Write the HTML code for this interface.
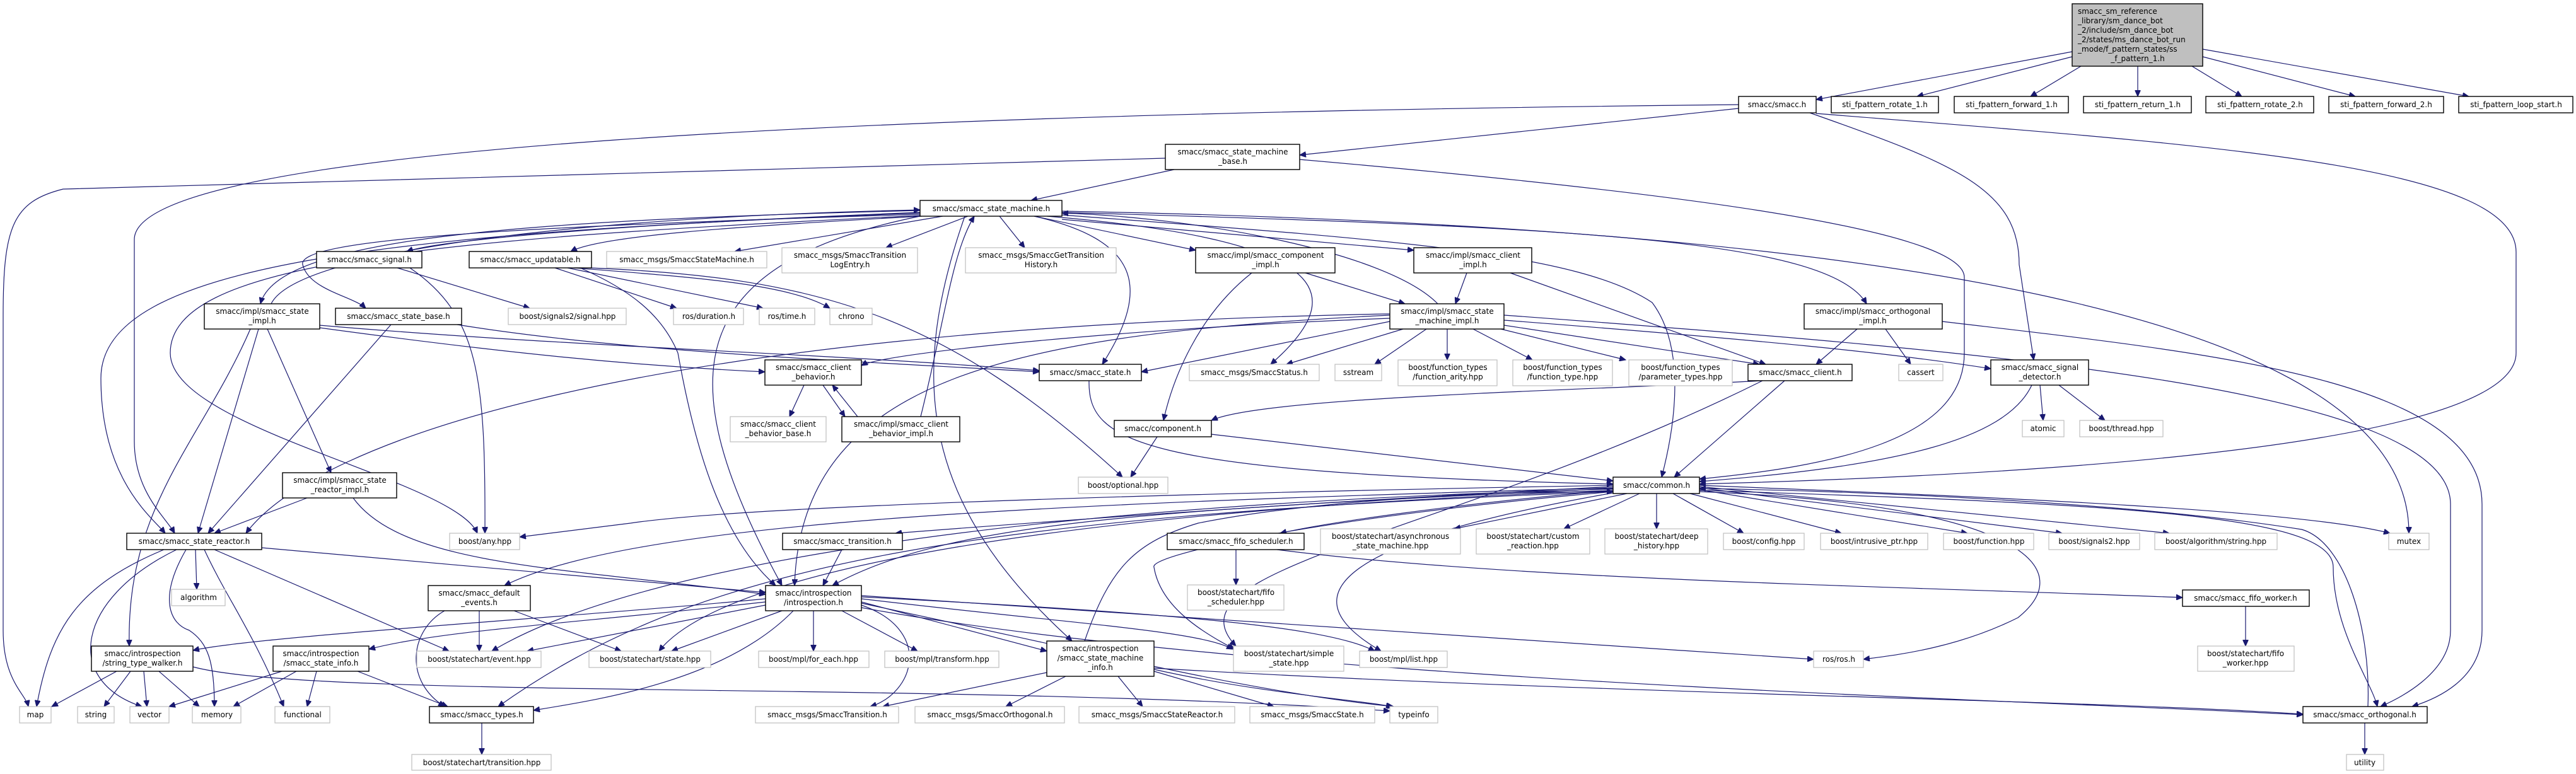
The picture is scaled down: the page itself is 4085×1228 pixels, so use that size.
<!DOCTYPE html>
<html><head><meta charset="utf-8">
<style>
html,body{margin:0;padding:0;background:#fff;}
svg{display:block;}
.n{fill:#fff;stroke:#000;stroke-width:1.4;}
.g{fill:#fff;stroke:#bfbfbf;stroke-width:1.2;}
text{font-family:"DejaVu Sans","Liberation Sans",sans-serif;font-size:12px;fill:#000;text-anchor:middle;}
.e path{fill:none;stroke:#191970;stroke-width:1.2;marker-end:url(#a);}
</style></head><body>
<svg width="4085" height="1228" viewBox="0 0 4085 1228" xmlns="http://www.w3.org/2000/svg">
<defs><marker id="a" markerUnits="userSpaceOnUse" markerWidth="11" markerHeight="9" refX="10" refY="4.5" orient="auto"><path d="M0,0 L10,4.5 L0,9 z" fill="#191970" stroke="#191970"/></marker></defs>
<g class="e">
<path d="M3286,82 L2880,158"/>
<path d="M3286,90 L3040,153"/>
<path d="M3300,105 L3220,153"/>
<path d="M3390,105 L3390,153"/>
<path d="M3476,105 L3555,153"/>
<path d="M3493,90 L3735,153"/>
<path d="M3493,78 L3915,153"/>
<path d="M2757,172 L2061,246"/>
<path d="M2757,166 C1400,180 213,230 213,380 L213,700 C213,780 262,820 277,846"/>
<path d="M1848,251 C900,275 300,290 100,300 C20,320 5,360 5,500 L5,1000 C5,1080 40,1100 45,1121"/>
<path d="M1862,269 L1635,318"/>
<path d="M2061,253 C2600,300 3115,360 3115,440 L3115,560 C3115,700 2900,740 2695,760"/>
<path d="M2880,180 C3500,230 3990,260 3990,400 L3990,560 C3990,720 3100,757 2695,768"/>
<path d="M2870,179 C3100,260 3202,300 3202,420 L3225,571"/>
<path d="M1459,337 C1000,355 700,380 645,399"/>
<path d="M1462,343 C1150,360 950,375 905,399"/>
<path d="M1495,343 L1165,399"/>
<path d="M1535,343 L1405,393"/>
<path d="M1585,343 L1625,393"/>
<path d="M1640,343 L1896,397"/>
<path d="M1684,348 L2242,397"/>
<path d="M1459,334 C800,350 440,380 413,482"/>
<path d="M1459,340 C800,360 470,380 480,420 C490,460 560,470 580,489"/>
<path d="M1640,343 C1800,380 1830,450 1748,578"/>
<path d="M1660,343 C2100,380 2150,460 2015,578"/>
<path d="M1684,337 C2500,360 2900,380 2960,482"/>
<path d="M1684,335 C3000,360 3820,500 3820,846"/>
<path d="M1459,342 C650,380 270,420 270,560 C270,680 720,760 757,846"/>
<path d="M1684,341 C2200,380 2500,400 2620,480 C2680,560 2650,700 2635,757"/>
<path d="M1459,338 C600,370 160,420 160,600 C160,760 240,820 262,846"/>
<path d="M1459,343 C1080,420 1060,600 1240,929"/>
<path d="M1530,343 C1440,600 1460,800 1700,1017"/>
<path d="M430,482 C470,400 900,345 1459,333"/>
<path d="M2280,482 C2200,400 1900,345 1684,338"/>
<path d="M1460,661 C1500,500 1510,400 1545,343"/>
<path d="M630,425 L840,489"/>
<path d="M650,425 C760,500 770,600 769,846"/>
<path d="M880,425 L1073,489"/>
<path d="M900,425 L1210,489"/>
<path d="M910,425 C1100,440 1250,450 1316,489"/>
<path d="M920,425 C1000,460 1050,500 1075,560 C1100,700 1140,850 1230,929"/>
<path d="M935,425 C1300,440 1500,500 1780,757"/>
<path d="M410,522 L314,846"/>
<path d="M397,522 C320,700 200,800 205,1025"/>
<path d="M424,522 L525,750"/>
<path d="M507,520 C800,560 1000,580 1213,590"/>
<path d="M507,516 C900,550 1300,560 1648,588"/>
<path d="M620,515 L330,846"/>
<path d="M725,515 C1000,560 1400,575 1648,590"/>
<path d="M1985,433 C1900,500 1860,600 1845,667"/>
<path d="M2070,433 L2228,482"/>
<path d="M2326,433 L2308,482"/>
<path d="M2395,433 L2800,578"/>
<path d="M2204,510 L1810,590"/>
<path d="M2225,522 L2040,578"/>
<path d="M2262,522 L2180,578"/>
<path d="M2295,522 L2295,571"/>
<path d="M2336,522 L2430,571"/>
<path d="M2380,522 L2578,571"/>
<path d="M2385,516 L2790,578"/>
<path d="M2385,508 C2800,540 3000,560 3157,585"/>
<path d="M3080,510 C3500,560 3936,600 3936,800 L3936,1000 C3936,1080 3860,1110 3825,1121"/>
<path d="M2385,500 C3200,560 3886,620 3886,800 L3886,1000 C3886,1070 3800,1110 3775,1121"/>
<path d="M2204,505 C1800,520 1400,560 1366,580"/>
<path d="M2204,498 C1000,520 500,700 390,846"/>
<path d="M2204,500 C1600,530 1270,600 1260,929"/>
<path d="M2945,522 L2880,578"/>
<path d="M2990,522 L3030,578"/>
<path d="M1275,611 L1252,661"/>
<path d="M1305,611 L1340,661"/>
<path d="M1360,661 L1320,611"/>
<path d="M2795,604 C2500,620 2000,630 1921,667"/>
<path d="M2830,604 L2655,757"/>
<path d="M2795,604 C2300,850 1840,900 1960,1025"/>
<path d="M3235,611 L3240,667"/>
<path d="M3265,611 L3338,667"/>
<path d="M3222,611 C3180,700 3000,740 2695,764"/>
<path d="M1835,693 L1793,757"/>
<path d="M1921,689 L2558,763"/>
<path d="M1727,604 C1725,700 1800,750 2558,768"/>
<path d="M487,790 L340,846"/>
<path d="M560,790 C640,900 900,900 1214,943"/>
<path d="M310,872 L312,935"/>
<path d="M260,872 C120,930 80,1000 58,1121"/>
<path d="M280,872 C120,950 100,1080 225,1121"/>
<path d="M295,872 C250,950 270,990 300,1000 C330,1020 340,1050 340,1121"/>
<path d="M324,872 C360,950 400,1000 450,1121"/>
<path d="M340,872 L712,1033"/>
<path d="M415,869 L1214,940"/>
<path d="M2558,770 C2000,780 1200,800 1000,830 L824,852"/>
<path d="M2558,772 C2000,800 1500,840 1420,846"/>
<path d="M2558,778 C2300,800 2100,830 2030,846"/>
<path d="M2580,783 L2306,839"/>
<path d="M2600,783 L2480,839"/>
<path d="M2627,783 L2627,839"/>
<path d="M2653,783 L2765,846"/>
<path d="M2680,783 L2920,846"/>
<path d="M2695,777 L3120,846"/>
<path d="M2695,774 L3270,846"/>
<path d="M2695,772 L3440,846"/>
<path d="M2695,770 C3200,790 3650,810 3790,846"/>
<path d="M2558,775 C1800,810 1500,830 1320,929"/>
<path d="M2558,774 C1600,800 1000,830 800,929"/>
<path d="M2558,776 C1600,800 1000,900 780,1033"/>
<path d="M2558,778 C1700,810 1150,900 1045,1033"/>
<path d="M2558,780 C1500,820 1100,900 790,1121"/>
<path d="M2558,780 C2100,820 1820,880 1830,900 C1840,960 1900,1000 1958,1030"/>
<path d="M2558,782 C2000,880 2100,980 2190,1033"/>
<path d="M2695,780 C3200,800 3300,900 3200,980 C3100,1030 3000,1040 2955,1046"/>
<path d="M2695,778 C3400,800 3700,820 3700,900 C3700,1000 3760,1080 3770,1121"/>
<path d="M3755,1121 C3760,1000 3720,860 3650,840 C3400,800 3000,780 2695,775"/>
<path d="M1720,1017 C1760,900 1800,860 1900,830 C2100,790 2400,780 2558,780"/>
<path d="M1335,872 L1305,929"/>
<path d="M1960,872 L1960,928"/>
<path d="M2025,872 C2400,920 3000,930 3461,948"/>
<path d="M3561,961 L3561,1025"/>
<path d="M760,969 L760,1033"/>
<path d="M815,969 L985,1033"/>
<path d="M705,969 C650,1000 640,1080 705,1121"/>
<path d="M1214,950 C900,980 400,1010 306,1032"/>
<path d="M1214,955 C900,990 700,1000 585,1030"/>
<path d="M1214,960 L836,1033"/>
<path d="M1240,969 L1065,1033"/>
<path d="M1290,969 L1290,1033"/>
<path d="M1335,969 L1455,1033"/>
<path d="M1366,955 L1660,1033"/>
<path d="M1366,950 C1700,990 1900,1000 1955,1030"/>
<path d="M1366,947 C1800,970 2100,990 2180,1033"/>
<path d="M1366,945 C2000,990 2600,1030 2876,1046"/>
<path d="M1258,969 C1150,1080 950,1110 846,1127"/>
<path d="M1366,960 C1480,1000 1450,1100 1380,1121"/>
<path d="M1366,957 C1800,1050 2000,1100 2210,1121"/>
<path d="M1366,964 C2000,1080 3200,1110 3652,1134"/>
<path d="M185,1065 L82,1121"/>
<path d="M207,1065 L165,1121"/>
<path d="M228,1065 L233,1121"/>
<path d="M252,1065 L316,1121"/>
<path d="M306,1058 C500,1110 1500,1080 2204,1128"/>
<path d="M447,1065 L268,1121"/>
<path d="M470,1065 L370,1121"/>
<path d="M502,1065 L487,1121"/>
<path d="M567,1065 L710,1121"/>
<path d="M1660,1067 L1400,1121"/>
<path d="M1690,1073 L1595,1121"/>
<path d="M1773,1073 L1812,1121"/>
<path d="M1830,1065 L2020,1121"/>
<path d="M1830,1062 C2000,1100 2150,1110 2208,1121"/>
<path d="M1830,1060 C2500,1100 3300,1110 3652,1133"/>
<path d="M764,1147 L764,1197"/>
<path d="M3750,1147 L3750,1197"/>
</g>
<g>
<rect x="3286" y="6" width="207" height="99" fill="#bfbfbf" stroke="#000" stroke-width="1.4"/>
<text x="3295" y="22" style="text-anchor:start">smacc_sm_reference</text>
<text x="3295" y="37" style="text-anchor:start">_library/sm_dance_bot</text>
<text x="3295" y="52" style="text-anchor:start">_2/include/sm_dance_bot</text>
<text x="3295" y="67" style="text-anchor:start">_2/states/ms_dance_bot_run</text>
<text x="3295" y="82" style="text-anchor:start">_mode/f_pattern_states/ss</text>
<text x="3390" y="97">_f_pattern_1.h</text>

<rect class="n" x="2757" y="153" width="123" height="26"/><text x="2818" y="170">smacc/smacc.h</text>
<rect class="n" x="2904" y="153" width="170" height="26"/><text x="2989" y="170">sti_fpattern_rotate_1.h</text>
<rect class="n" x="3099" y="153" width="181" height="26"/><text x="3190" y="170">sti_fpattern_forward_1.h</text>
<rect class="n" x="3304" y="153" width="171" height="26"/><text x="3390" y="170">sti_fpattern_return_1.h</text>
<rect class="n" x="3498" y="153" width="171" height="26"/><text x="3584" y="170">sti_fpattern_rotate_2.h</text>
<rect class="n" x="3693" y="153" width="182" height="26"/><text x="3784" y="170">sti_fpattern_forward_2.h</text>
<rect class="n" x="3899" y="153" width="181" height="26"/><text x="3990" y="170">sti_fpattern_loop_start.h</text>

<rect class="n" x="1848" y="229" width="213" height="40"/><text x="1955" y="245">smacc/smacc_state_machine</text><text x="1955" y="260">_base.h</text>
<rect class="n" x="1459" y="318" width="225" height="25"/><text x="1572" y="335">smacc/smacc_state_machine.h</text>

<rect class="n" x="502" y="399" width="167" height="26"/><text x="586" y="416">smacc/smacc_signal.h</text>
<rect class="n" x="744" y="399" width="194" height="26"/><text x="841" y="416">smacc/smacc_updatable.h</text>
<rect class="g" x="962" y="399" width="254" height="26"/><text x="1089" y="416">smacc_msgs/SmaccStateMachine.h</text>
<rect class="g" x="1240" y="393" width="215" height="40"/><text x="1348" y="409">smacc_msgs/SmaccTransition</text><text x="1348" y="424">LogEntry.h</text>
<rect class="g" x="1531" y="393" width="239" height="40"/><text x="1651" y="409">smacc_msgs/SmaccGetTransition</text><text x="1651" y="424">History.h</text>
<rect class="n" x="1896" y="393" width="221" height="40"/><text x="2007" y="409">smacc/impl/smacc_component</text><text x="2007" y="424">_impl.h</text>
<rect class="n" x="2242" y="393" width="187" height="40"/><text x="2336" y="409">smacc/impl/smacc_client</text><text x="2336" y="424">_impl.h</text>

<rect class="n" x="324" y="482" width="183" height="40"/><text x="416" y="498">smacc/impl/smacc_state</text><text x="416" y="513">_impl.h</text>
<rect class="n" x="532" y="489" width="200" height="26"/><text x="632" y="506">smacc/smacc_state_base.h</text>
<rect class="g" x="806" y="489" width="187" height="26"/><text x="900" y="506">boost/signals2/signal.hpp</text>
<rect class="g" x="1068" y="489" width="111" height="26"/><text x="1124" y="506">ros/duration.h</text>
<rect class="g" x="1204" y="489" width="88" height="26"/><text x="1248" y="506">ros/time.h</text>
<rect class="g" x="1316" y="489" width="67" height="26"/><text x="1350" y="506">chrono</text>
<rect class="n" x="2204" y="482" width="181" height="40"/><text x="2295" y="498">smacc/impl/smacc_state</text><text x="2295" y="513">_machine_impl.h</text>
<rect class="n" x="2861" y="482" width="219" height="40"/><text x="2970" y="498">smacc/impl/smacc_orthogonal</text><text x="2970" y="513">_impl.h</text>

<rect class="n" x="1213" y="571" width="153" height="40"/><text x="1290" y="587">smacc/smacc_client</text><text x="1290" y="602">_behavior.h</text>
<rect class="n" x="1648" y="578" width="162" height="26"/><text x="1729" y="595">smacc/smacc_state.h</text>
<rect class="g" x="1886" y="578" width="206" height="26"/><text x="1989" y="595">smacc_msgs/SmaccStatus.h</text>
<rect class="g" x="2117" y="578" width="74" height="26"/><text x="2154" y="595">sstream</text>
<rect class="g" x="2217" y="571" width="157" height="41"/><text x="2296" y="587">boost/function_types</text><text x="2296" y="602">/function_arity.hpp</text>
<rect class="g" x="2399" y="571" width="158" height="41"/><text x="2478" y="587">boost/function_types</text><text x="2478" y="602">/function_type.hpp</text>
<rect class="g" x="2583" y="571" width="164" height="41"/><text x="2665" y="587">boost/function_types</text><text x="2665" y="602">/parameter_types.hpp</text>
<rect class="n" x="2772" y="578" width="165" height="26"/><text x="2855" y="595">smacc/smacc_client.h</text>
<rect class="g" x="3011" y="578" width="70" height="26"/><text x="3046" y="595">cassert</text>
<rect class="n" x="3157" y="571" width="155" height="40"/><text x="3235" y="587">smacc/smacc_signal</text><text x="3235" y="602">_detector.h</text>

<rect class="g" x="1158" y="661" width="152" height="40"/><text x="1234" y="677">smacc/smacc_client</text><text x="1234" y="692">_behavior_base.h</text>
<rect class="n" x="1335" y="661" width="187" height="40"/><text x="1429" y="677">smacc/impl/smacc_client</text><text x="1429" y="692">_behavior_impl.h</text>
<rect class="n" x="1767" y="667" width="154" height="26"/><text x="1844" y="684">smacc/component.h</text>
<rect class="g" x="3207" y="667" width="66" height="26"/><text x="3240" y="684">atomic</text>
<rect class="g" x="3298" y="667" width="132" height="26"/><text x="3364" y="684">boost/thread.hpp</text>

<rect class="n" x="448" y="750" width="181" height="40"/><text x="539" y="766">smacc/impl/smacc_state</text><text x="539" y="781">_reactor_impl.h</text>
<rect class="g" x="1710" y="757" width="142" height="26"/><text x="1781" y="774">boost/optional.hpp</text>
<rect class="n" x="2558" y="757" width="137" height="26"/><text x="2627" y="774">smacc/common.h</text>

<rect class="n" x="201" y="846" width="214" height="26"/><text x="308" y="863">smacc/smacc_state_reactor.h</text>
<rect class="g" x="713" y="846" width="111" height="26"/><text x="769" y="863">boost/any.hpp</text>
<rect class="n" x="1241" y="846" width="190" height="26"/><text x="1336" y="863">smacc/smacc_transition.h</text>
<rect class="n" x="1851" y="846" width="217" height="26"/><text x="1960" y="863">smacc/smacc_fifo_scheduler.h</text>
<rect class="g" x="2094" y="839" width="222" height="40"/><text x="2205" y="855">boost/statechart/asynchronous</text><text x="2205" y="870">_state_machine.hpp</text>
<rect class="g" x="2341" y="839" width="180" height="40"/><text x="2431" y="855">boost/statechart/custom</text><text x="2431" y="870">_reaction.hpp</text>
<rect class="g" x="2545" y="839" width="163" height="40"/><text x="2627" y="855">boost/statechart/deep</text><text x="2627" y="870">_history.hpp</text>
<rect class="g" x="2733" y="846" width="128" height="26"/><text x="2797" y="863">boost/config.hpp</text>
<rect class="g" x="2887" y="846" width="170" height="26"/><text x="2972" y="863">boost/intrusive_ptr.hpp</text>
<rect class="g" x="3082" y="846" width="143" height="26"/><text x="3154" y="863">boost/function.hpp</text>
<rect class="g" x="3249" y="846" width="144" height="26"/><text x="3321" y="863">boost/signals2.hpp</text>
<rect class="g" x="3417" y="846" width="194" height="26"/><text x="3514" y="863">boost/algorithm/string.hpp</text>
<rect class="g" x="3788" y="846" width="64" height="26"/><text x="3820" y="863">mutex</text>

<rect class="g" x="272" y="935" width="85" height="26"/><text x="315" y="952">algorithm</text>
<rect class="n" x="679" y="929" width="162" height="40"/><text x="760" y="945">smacc/smacc_default</text><text x="760" y="960">_events.h</text>
<rect class="n" x="1214" y="929" width="152" height="40"/><text x="1290" y="945">smacc/introspection</text><text x="1290" y="960">/introspection.h</text>
<rect class="g" x="1883" y="928" width="153" height="40"/><text x="1960" y="944">boost/statechart/fifo</text><text x="1960" y="959">_scheduler.hpp</text>
<rect class="n" x="3461" y="936" width="201" height="26"/><text x="3561" y="953">smacc/smacc_fifo_worker.h</text>

<rect class="n" x="145" y="1025" width="161" height="40"/><text x="226" y="1041">smacc/introspection</text><text x="226" y="1056">/string_type_walker.h</text>
<rect class="n" x="433" y="1025" width="152" height="40"/><text x="509" y="1041">smacc/introspection</text><text x="509" y="1056">/smacc_state_info.h</text>
<rect class="g" x="661" y="1033" width="197" height="26"/><text x="760" y="1050">boost/statechart/event.hpp</text>
<rect class="g" x="934" y="1033" width="193" height="26"/><text x="1031" y="1050">boost/statechart/state.hpp</text>
<rect class="g" x="1203" y="1033" width="175" height="26"/><text x="1290" y="1050">boost/mpl/for_each.hpp</text>
<rect class="g" x="1403" y="1033" width="181" height="26"/><text x="1494" y="1050">boost/mpl/transform.hpp</text>
<rect class="n" x="1660" y="1017" width="170" height="56"/><text x="1745" y="1033">smacc/introspection</text><text x="1745" y="1048">/smacc_state_machine</text><text x="1745" y="1063">_info.h</text>
<rect class="g" x="1956" y="1025" width="175" height="40"/><text x="2044" y="1041">boost/statechart/simple</text><text x="2044" y="1056">_state.hpp</text>
<rect class="g" x="2156" y="1033" width="139" height="26"/><text x="2226" y="1050">boost/mpl/list.hpp</text>
<rect class="g" x="2876" y="1033" width="79" height="26"/><text x="2916" y="1050">ros/ros.h</text>
<rect class="g" x="3485" y="1025" width="153" height="40"/><text x="3561" y="1041">boost/statechart/fifo</text><text x="3561" y="1056">_worker.hpp</text>

<rect class="g" x="31" y="1121" width="50" height="26"/><text x="56" y="1138">map</text>
<rect class="g" x="123" y="1121" width="58" height="26"/><text x="152" y="1138">string</text>
<rect class="g" x="206" y="1121" width="62" height="26"/><text x="237" y="1138">vector</text>
<rect class="g" x="305" y="1121" width="77" height="26"/><text x="344" y="1138">memory</text>
<rect class="g" x="436" y="1121" width="87" height="26"/><text x="480" y="1138">functional</text>
<rect class="n" x="681" y="1121" width="165" height="26"/><text x="764" y="1138">smacc/smacc_types.h</text>
<rect class="g" x="1198" y="1121" width="227" height="26"/><text x="1312" y="1138">smacc_msgs/SmaccTransition.h</text>
<rect class="g" x="1451" y="1121" width="237" height="26"/><text x="1570" y="1138">smacc_msgs/SmaccOrthogonal.h</text>
<rect class="g" x="1711" y="1121" width="247" height="26"/><text x="1835" y="1138">smacc_msgs/SmaccStateReactor.h</text>
<rect class="g" x="1982" y="1121" width="198" height="26"/><text x="2081" y="1138">smacc_msgs/SmaccState.h</text>
<rect class="g" x="2204" y="1121" width="76" height="26"/><text x="2242" y="1138">typeinfo</text>
<rect class="n" x="3652" y="1121" width="197" height="26"/><text x="3750" y="1138">smacc/smacc_orthogonal.h</text>
<rect class="g" x="653" y="1197" width="221" height="25"/><text x="764" y="1214">boost/statechart/transition.hpp</text>
<rect class="g" x="3721" y="1197" width="59" height="25"/><text x="3750" y="1214">utility</text>
</g>
</svg>
</body></html>
